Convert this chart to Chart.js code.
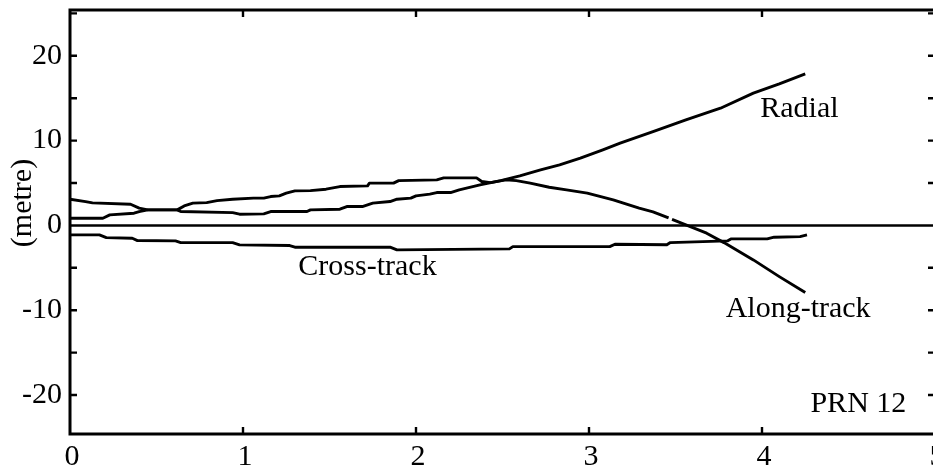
<!DOCTYPE html>
<html>
<head>
<meta charset="utf-8">
<script src="https://cdn.jsdelivr.net/npm/chart.js@4.4.1/dist/chart.umd.min.js"></script>
<style>
  html, body { margin: 0; padding: 0; background: #fff; overflow: hidden; }
  #wrap { width: 950px; height: 476px; }
</style>
</head>
<body>
<div id="wrap"><canvas id="c" width="950" height="476"></canvas></div>
<script>
// Orbit error components for PRN 12 (metre) against time
const radialX = [0, 0.19, 0.23, 0.37, 0.40, 0.45, 0.62, 0.64, 0.94, 0.98,
                 1.12, 1.16, 1.37, 1.39, 1.56, 1.60, 1.69, 1.75, 1.85, 1.89,
                 1.97, 2.00, 2.08, 2.12, 2.20, 2.25, 2.37, 2.49, 2.60, 2.72,
                 2.83, 2.95, 3.08, 3.18, 3.37, 3.56, 3.76, 3.95, 4.10, 4.25];
const radialY = [0.85, 0.85, 1.24, 1.44, 1.63, 1.83, 1.83, 1.63, 1.51, 1.32,
                 1.36, 1.63, 1.63, 1.83, 1.91, 2.22, 2.22, 2.62, 2.81, 3.09,
                 3.21, 3.48, 3.68, 3.87, 3.87, 4.19, 4.78, 5.28, 5.84, 6.54,
                 7.13, 7.92, 8.90, 9.69, 11.06, 12.44, 13.82, 15.59, 16.69, 17.87];

const alongX = [0, 0.09, 0.13, 0.35, 0.40, 0.45, 0.62, 0.66, 0.71, 0.79,
                0.85, 0.94, 1.06, 1.12, 1.16, 1.21, 1.25, 1.30, 1.39, 1.48,
                1.56, 1.72, 1.73, 1.87, 1.90, 2.12, 2.16, 2.35, 2.38, 2.43,
                2.52, 2.58, 2.66, 2.77, 2.87, 2.99, 3.14, 3.29, 3.37, 3.46,
                3.47, 3.48, 3.56, 3.68, 3.78, 3.95, 4.10, 4.25];
const alongY = [3.09, 2.81, 2.65, 2.50, 2.03, 1.83, 1.83, 2.30, 2.62, 2.69,
                2.92, 3.09, 3.21, 3.21, 3.40, 3.48, 3.80, 4.07, 4.10, 4.27,
                4.58, 4.66, 4.98, 4.98, 5.28, 5.37, 5.60, 5.60, 5.17, 5.05,
                5.37, 5.28, 4.98, 4.50, 4.19, 3.80, 3.01, 2.03, 1.60, 0.88,
                null, 0.70, 0.06, -0.92, -2.03, -4.07, -6.04, -7.92];

const crossX = [0, 0.17, 0.21, 0.36, 0.39, 0.61, 0.64, 0.94, 0.98, 1.27,
                1.30, 1.85, 1.89, 2.54, 2.56, 3.12, 3.15, 3.45, 3.47, 3.80,
                3.82, 4.03, 4.07, 4.22, 4.26];
const crossY = [-1.12, -1.12, -1.44, -1.51, -1.79, -1.83, -2.03, -2.03, -2.30, -2.38,
                -2.57, -2.57, -2.89, -2.77, -2.50, -2.50, -2.22, -2.28, -2.03, -1.83,
                -1.59, -1.59, -1.39, -1.32, -1.12];

// Axis ranges and labelled tick values
const xRange = [0, 5];
const yRange = [-24.6, 25.4];
const xTickLabels = [0, 1, 2, 3, 4, 5];
const yTickLabels = [-20, -10, 0, 10, 20];

// Curve captions, placed in data units
const captions = [
  { text: 'Radial',      x: 3.99, y: 12.8 },
  { text: 'Along-track', x: 3.79, y: -10.8 },
  { text: 'Cross-track', x: 1.32, y: -5.84 },
  { text: 'PRN 12',      x: 4.28, y: -22.0 }
];
const yTitle = '(metre)';

const FONT = '30px "Liberation Serif", "Times New Roman", serif';
const toPoints = (xs, ys) => xs.map((x, i) => ({ x: x, y: ys[i] }));

const lineStyle = {
  borderColor: '#000',
  borderWidth: 2.9,
  pointRadius: 0,
  tension: 0,
  fill: false,
  spanGaps: false,
  borderJoinStyle: 'round'
};

// Frame, inward tick marks, zero line and text
const decor = {
  id: 'decor',
  beforeDatasetsDraw(chart) {
    const { ctx, chartArea: a, scales: { y } } = chart;
    const y0 = y.getPixelForValue(0);
    ctx.save();
    ctx.strokeStyle = '#000';
    ctx.lineWidth = 2.5;
    ctx.beginPath();
    ctx.moveTo(a.left, y0);
    ctx.lineTo(a.right, y0);
    ctx.stroke();
    ctx.restore();
  },
  afterDraw(chart) {
    const { ctx, chartArea: a, scales: { x, y } } = chart;
    ctx.save();
    ctx.strokeStyle = '#000';
    ctx.lineWidth = 3;
    ctx.strokeRect(a.left, a.top, a.right - a.left, a.bottom - a.top);

    const len = 7;
    ctx.lineWidth = 2.4;
    ctx.beginPath();
    y.ticks.forEach(t => {
      if (t.value % 5 !== 0 || t.value === 0) return;
      const py = y.getPixelForValue(t.value);
      ctx.moveTo(a.left, py); ctx.lineTo(a.left + len, py);
      ctx.moveTo(a.right, py); ctx.lineTo(a.right - len, py);
    });
    x.ticks.forEach(t => {
      if (t.value <= xRange[0] || t.value >= xRange[1]) return;
      const px = x.getPixelForValue(t.value);
      ctx.moveTo(px, a.bottom); ctx.lineTo(px, a.bottom - len);
      ctx.moveTo(px, a.top); ctx.lineTo(px, a.top + len);
    });
    ctx.stroke();

    ctx.fillStyle = '#000';
    ctx.font = FONT;
    ctx.textAlign = 'left';
    ctx.textBaseline = 'alphabetic';
    captions.forEach(c => {
      ctx.fillText(c.text, x.getPixelForValue(c.x), y.getPixelForValue(c.y));
    });

    ctx.translate(23, 203);
    ctx.rotate(-Math.PI / 2);
    ctx.textAlign = 'center';
    ctx.textBaseline = 'middle';
    ctx.fillText(yTitle, 0, 0);
    ctx.restore();
  }
};

new Chart(document.getElementById('c'), {
  type: 'line',
  data: {
    datasets: [
      Object.assign({ label: 'Radial', data: toPoints(radialX, radialY) }, lineStyle),
      Object.assign({ label: 'Along-track', data: toPoints(alongX, alongY) }, lineStyle),
      Object.assign({ label: 'Cross-track', data: toPoints(crossX, crossY) }, lineStyle)
    ]
  },
  options: {
    responsive: false,
    animation: false,
    events: [],
    layout: { padding: { left: 0, top: 10, right: 15, bottom: 0 } },
    plugins: { legend: { display: false }, tooltip: { enabled: false } },
    scales: {
      x: {
        type: 'linear',
        min: xRange[0],
        max: xRange[1],
        grid: { display: false, drawTicks: false },
        border: { display: false },
        ticks: {
          stepSize: 1,
          padding: 5,
          labelOffset: 2,
          color: '#000',
          font: { family: '"Liberation Serif", "Times New Roman", serif', size: 30 },
          callback: v => xTickLabels.includes(v) ? String(v) : null
        },
        afterFit: s => { s.height = 42; s.paddingLeft = 0; s.paddingRight = 0; }
      },
      y: {
        type: 'linear',
        min: yRange[0],
        max: yRange[1],
        grid: { display: false, drawTicks: false },
        border: { display: false },
        afterBuildTicks: s => {
          const vals = [];
          for (let v = -20; v <= 25; v += 5) vals.push({ value: v });
          s.ticks = vals;
        },
        ticks: {
          padding: 8,
          color: '#000',
          font: { family: '"Liberation Serif", "Times New Roman", serif', size: 30 },
          callback: v => yTickLabels.includes(v) ? String(v) : ''
        },
        afterFit: s => { s.width = 70; s.paddingTop = 0; s.paddingBottom = 0; }
      }
    }
  },
  plugins: [decor]
});
</script>
</body>
</html>
